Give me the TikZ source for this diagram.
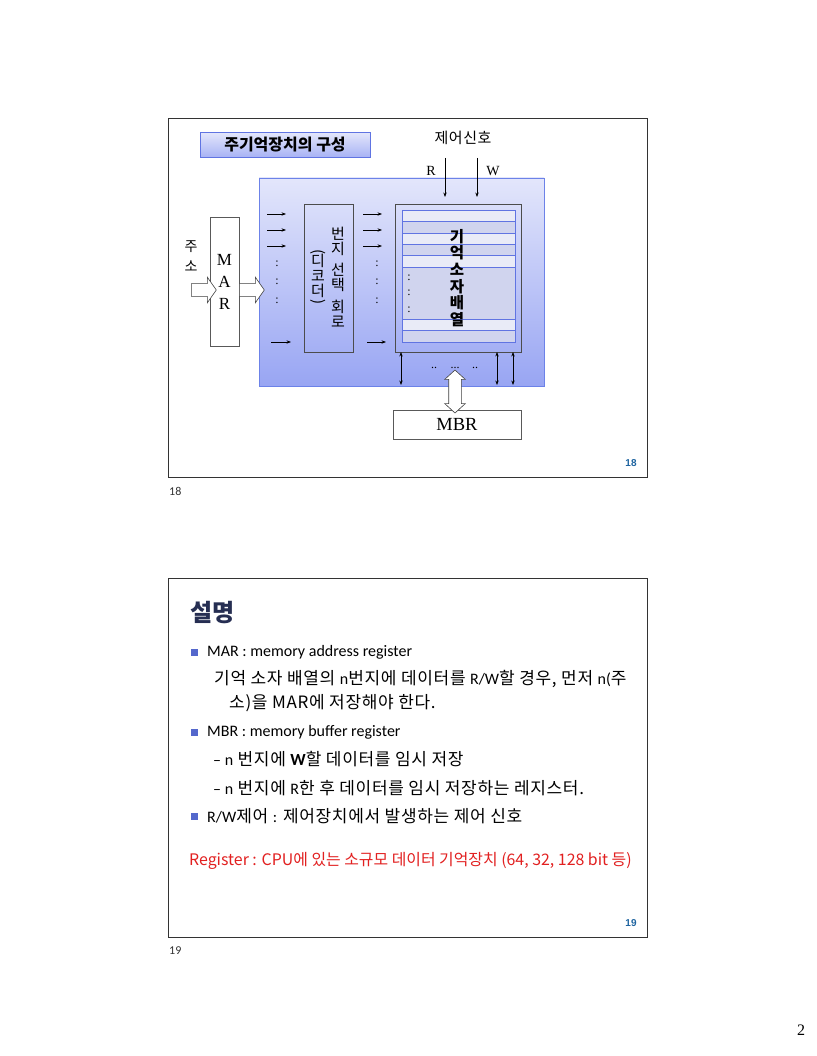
\documentclass[tikz,border=0pt]{standalone}
\usepackage{fontspec}
\setmainfont{Carlito}
\newfontfamily\kr{Noto Sans CJK KR}
\newfontfamily\krs{Noto Sans CJK KR}[LetterSpace=4]
\newfontfamily\tms{Liberation Serif}
\newfontfamily\ars{Liberation Sans}
\usetikzlibrary{arrows.meta,shapes.arrows}

\definecolor{paneltop}{RGB}{227,230,251}
\definecolor{panelbot}{RGB}{152,165,243}
\definecolor{panelline}{RGB}{108,130,232}
\definecolor{rowl}{RGB}{233,235,247}
\definecolor{rowd}{RGB}{208,212,238}
\definecolor{rowline}{RGB}{96,116,226}
\definecolor{numblue}{RGB}{30,100,160}
\definecolor{navy}{RGB}{38,46,82}
\definecolor{bullet}{RGB}{84,104,204}
\definecolor{note}{RGB}{226,32,32}

\newcommand\en[1]{{\normalfont\fontsize{16}{18}\selectfont #1}}

\begin{document}
\begin{tikzpicture}[x=1pt, y=-1pt,
  frame/.style={draw=black!80, line width=0.8pt},
  box/.style={draw=black!70, line width=0.7pt, inner sep=0pt},
  arr/.style={-{Stealth[length=4.5pt,width=3.4pt]}, line width=0.7pt},
  biarr/.style={{Stealth[length=4.5pt,width=3.4pt]}-{Stealth[length=4.5pt,width=3.4pt]}, line width=0.7pt},
  hollow/.style={draw=black!75, fill=white, line width=0.6pt, inner sep=0pt, text depth=0pt},
  dots/.style={font=\tms\fontsize{12}{12}\selectfont, inner sep=0pt},
  body/.style={font=\krs\fontsize{17}{20}\selectfont, anchor=west, inner sep=0pt},
  item/.style={font=\fontsize{16}{18}\selectfont, anchor=west, inner sep=0pt},
  sq/.style={fill=bullet, minimum size=7pt, inner sep=0pt}]

\useasboundingbox[fill=white] (0,0) rectangle (816,1056);

% slide 18
\draw[frame] (168,118) rectangle (647,477);
\node[draw=rowline, line width=0.8pt, top color=paneltop, bottom color=panelbot!80!paneltop,
  minimum width=170pt, minimum height=25pt, font=\kr\bfseries\fontsize{16}{18}\selectfont]
  (T) at (285,145) {주기억장치의 구성};
\node[draw=panelline, line width=0.8pt, top color=paneltop, bottom color=panelbot,
  minimum width=285pt, minimum height=208pt] (P) at (401.5,282) {};

% nodes
\node[font=\krs\fontsize{15}{18}\selectfont] (sig) at (463,138) {제어신호};
\node[font=\tms\fontsize{14}{16}\selectfont] (R) at (431,171) {R};
\node[font=\tms\fontsize{14}{16}\selectfont] (W) at (493,171) {W};
\node[font=\kr\fontsize{14}{20}\selectfont, align=center, inner sep=0pt] (addr) at (191,256) {주\\소};
\node[box, fill=white, draw=black!65, minimum width=29pt, minimum height=129pt, align=center,
  font=\tms\fontsize{17}{22}\selectfont] (MAR) at (224.5,281.5) {M\\A\\R};
\node[box, minimum width=49pt, minimum height=148pt] (dec) at (328.5,278) {};
\node[font=\kr\fontsize{15}{15}\selectfont, align=center, inner sep=0pt] (decA) at (338,277)
  {번\\지\\[6.5pt]선\\택\\[6.5pt]회\\로};
\node[font=\kr\fontsize{15}{15}\selectfont, align=center, inner sep=0pt] (decB) at (318,278)
  {\rotatebox[origin=c]{-90}{(}\\[-5pt]디\\코\\더\\[-5pt]\rotatebox[origin=c]{-90}{)}};
\node[box, minimum width=126pt, minimum height=148pt] (mem) at (458,278) {};
\foreach \ya/\yb/\c in {210.3/221.7/rowl, 221.7/233/rowd, 233/244.3/rowl, 244.3/255.7/rowd,
  255.7/267/rowl, 267/319.7/rowd, 319.7/330.7/rowl, 330.7/342/rowd}
  \filldraw[fill=\c, draw=rowline, line width=0.6pt] (402,\ya) rectangle (515,\yb);
\node[font=\kr\bfseries\fontsize{15.5}{16.7}\selectfont, align=center, inner sep=0pt] (memT) at (457,278)
  {기\\억\\소\\자\\배\\열};
\node[box, fill=white, draw=black!65, minimum width=128pt, minimum height=29pt,
  font=\tms\fontsize{18.5}{20}\selectfont] (MBR) at (457,424.5) {MBR};
\node[hollow, single arrow, text height=12pt, minimum height=25pt,
  single arrow head extend=6.5pt, single arrow tip angle=110, anchor=tail] (in) at (191,290) {};
\node[hollow, single arrow, text height=12pt, minimum height=25pt,
  single arrow head extend=6.5pt, single arrow tip angle=110, anchor=tail] (out) at (239,290) {};

% arrows
\foreach \y in {214,230,246} {
  \draw[arr] (267,\y) -- (286,\y);
  \draw[arr] (363,\y) -- (382,\y);
}
\draw[arr] (271,342) -- (291,342);
\draw[arr] (367,342) -- (386,342);
\foreach \y in {264,282,301} {
  \node[dots] at (277,\y) {:};
  \node[dots] at (377,\y) {:};
}
\foreach \y in {278,293,310}
  \node[dots] at (409,\y) {:};
\draw[arr] (445,158) -- (445,197);
\draw[arr] (477,158) -- (477,197);
\foreach \x in {401,497,513}
  \draw[biarr] (\x,352) -- (\x,385);
\node[dots] at (434,368) {..};
\node[dots] at (455,368) {...};
\node[dots] at (475,368) {..};
\node[hollow, double arrow, rotate=90, text height=12pt, minimum height=43pt,
  double arrow head extend=4pt, double arrow tip angle=95] (bus) at (455,391.5) {};
\node[font=\ars\bfseries\fontsize{10}{12}\selectfont, text=numblue] (n18) at (631,463) {18};
\node[font=\fontsize{12}{14}\selectfont, text=black!80, anchor=west, inner sep=0pt] (c18) at (169,491) {18};

% slide 19
\draw[frame] (168,578) rectangle (647,937);
\node[font=\kr\bfseries\fontsize{24}{28}\selectfont, text=navy, anchor=west, inner sep=0pt] (H) at (190,613) {설명};
\node[sq] (b1) at (194,652) {};
\node[item] (t1) at (207,652) {MAR : memory address register};
\node[body] (t2) at (214,679) {기억 소자 배열의 \en{n}번지에 데이터를 \en{R/W}할 경우, 먼저 \en{n(}주};
\node[body] (t3) at (229,703) {소)을 MAR에 저장해야 한다.};
\node[sq] (b2) at (194,732) {};
\node[item] (t4) at (207,732) {MBR : memory buffer register};
\node[body] (t5) at (213,759) {\en{– n} 번지에 {\normalfont\bfseries\fontsize{17}{20}\selectfont W}할 데이터를 임시 저장};
\node[body] (t6) at (213,788) {\en{– n} 번지에 \en{R}한 후 데이터를 임시 저장하는 레지스터.};
\node[sq] (b3) at (194,816) {};
\node[body] (t7) at (207,816) {\en{R/W}제어 \en{:} 제어장치에서 발생하는 제어 신호};
\node[font=\kr\fontsize{15.9}{18}\selectfont, text=note, anchor=west, inner sep=0pt] (t8) at (189,861)
  {Register : CPU에 있는 소규모 데이터 기억장치 (64, 32, 128 bit 등)};
\node[font=\ars\bfseries\fontsize{10}{12}\selectfont, text=numblue] (n19) at (631,923) {19};
\node[font=\fontsize{12}{14}\selectfont, text=black!80, anchor=west, inner sep=0pt] (c19) at (169,951) {19};

\node[font=\tms\fontsize{16}{18}\selectfont] (pg) at (801,1030) {2};
\end{tikzpicture}
\end{document}
